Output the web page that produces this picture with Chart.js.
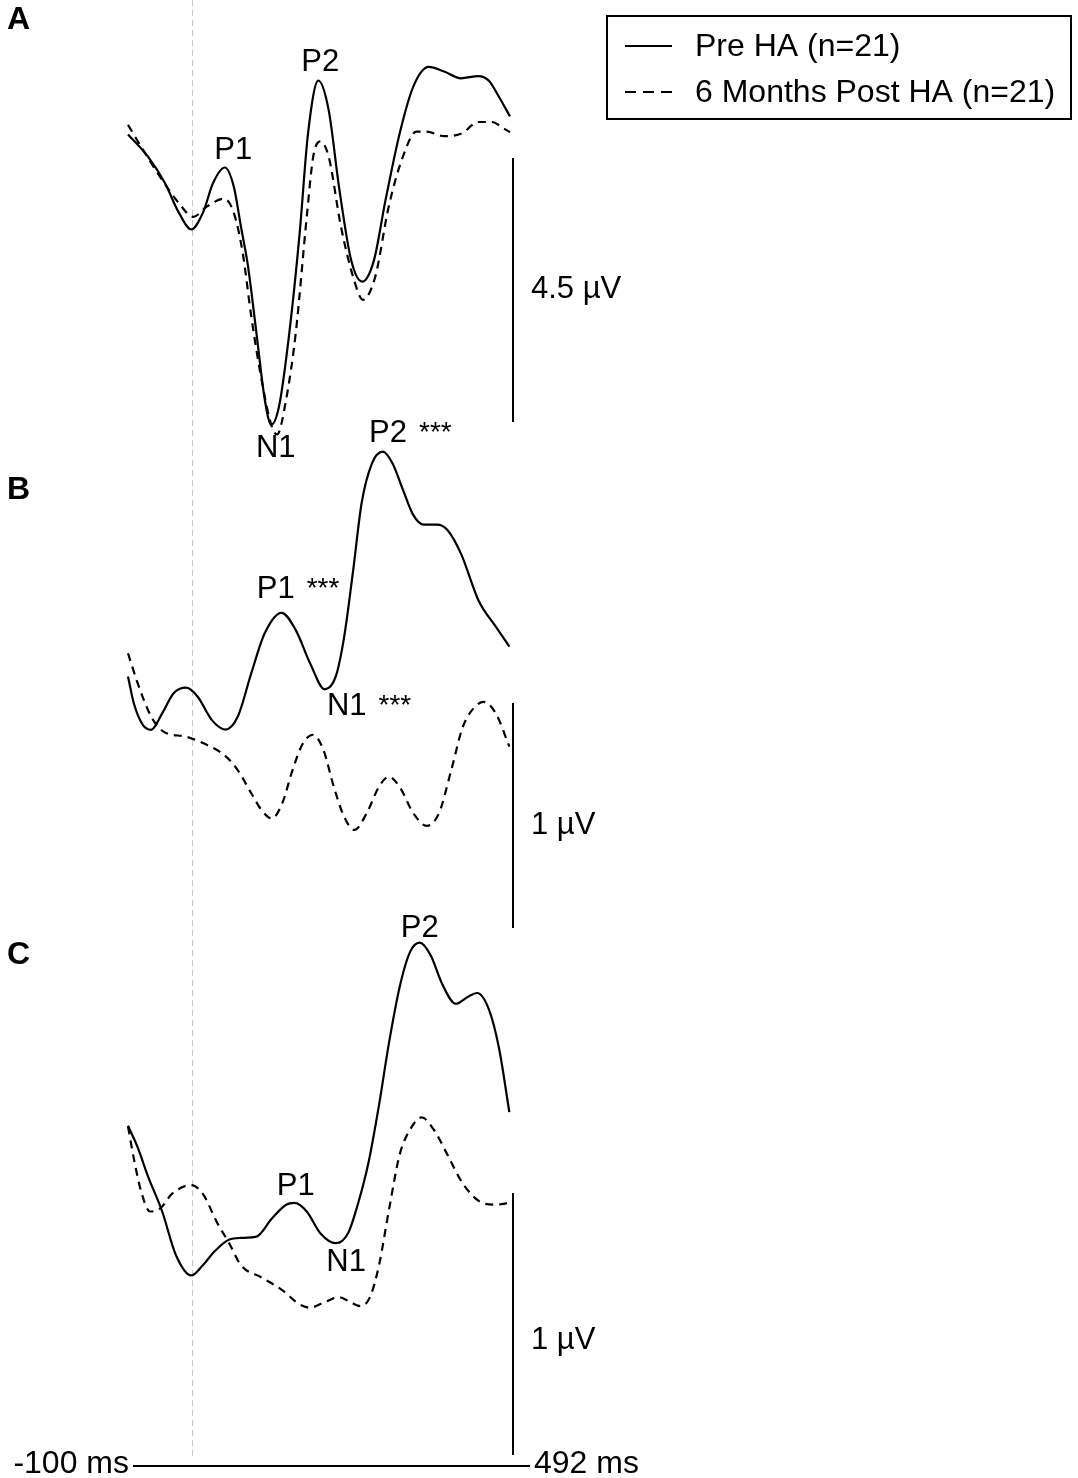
<!DOCTYPE html>
<html>
<head>
<meta charset="utf-8">
<title>ERP waveforms pre / post HA</title>
<script src="https://cdn.jsdelivr.net/npm/chart.js@4.4.1/dist/chart.umd.min.js"></script>
<style>
  html, body { margin: 0; padding: 0; background: #fff; }
  #wrap { width: 1078px; height: 1478px; }
</style>
</head>
<body>
<div id="wrap"><canvas id="erp" width="1078" height="1478"></canvas></div>
<script>
// ---- data: time in ms, amplitude in µV ----
const seriesLabels = ['Pre HA (n=21)', '6 Months Post HA (n=21)'];
const panelNames = ['A', 'B', 'C'];
const timeRange = [-100, 492];

const aPreMs = [-100, -69, -43, -21, -2, 16, 32, 50, 64, 75, 86, 99, 112, 122, 134, 150, 166, 179, 195, 211, 227, 246, 263, 281, 299, 321, 342, 366, 390, 416, 443, 459, 475, 492];
const aPreUv = [1.007, 0.629, 0.184, -0.329, -0.610, -0.329, 0.184, 0.445, 0.116, -0.561, -1.239, -2.372, -3.514, -3.940, -3.630, -2.372, -0.678, 1.026, 1.926, 1.423, 0.116, -1.142, -1.500, -1.142, -0.116, 1.026, 1.820, 2.159, 2.081, 1.965, 2.004, 1.926, 1.646, 1.316];
const aPostMs = [-100, -74, -47, -21, 1, 22, 49, 64, 78, 91, 108, 123, 131, 145, 160, 177, 187, 198, 211, 230, 249, 264, 283, 304, 326, 347, 363, 390, 417, 443, 464, 482, 492];
const aPostUv = [1.171, 0.697, 0.232, -0.165, -0.397, -0.223, -0.087, -0.329, -1.026, -2.091, -3.233, -3.978, -4.104, -3.514, -2.372, -0.397, 0.629, 0.891, 0.629, -0.561, -1.423, -1.810, -1.423, -0.223, 0.629, 1.055, 1.055, 0.978, 1.026, 1.220, 1.220, 1.113, 1.045];

const bPreMs = [-100, -91, -77, -64, -47, -29, -10, 8, 30, 51, 70, 91, 112, 138, 160, 182, 205, 222, 235, 249, 262, 278, 295, 310, 326, 342, 358, 379, 395, 416, 443, 470, 491];
const bPreUv = [0.194, 0.075, -0.021, -0.043, 0.030, 0.120, 0.144, 0.104, 0, -0.042, 0.015, 0.208, 0.387, 0.477, 0.400, 0.254, 0.137, 0.194, 0.370, 0.667, 0.964, 1.140, 1.193, 1.140, 1.024, 0.912, 0.869, 0.869, 0.845, 0.740, 0.533, 0.415, 0.327];
const bPostMs = [-100, -85, -64, -45, -10, 22, 49, 70, 91, 107, 123, 139, 155, 171, 187, 203, 219, 235, 251, 270, 289, 304, 321, 342, 363, 382, 401, 419, 438, 451, 470, 491];
const bPostUv = [0.297, 0.164, 0.015, -0.051, -0.074, -0.110, -0.155, -0.222, -0.325, -0.400, -0.437, -0.370, -0.222, -0.104, -0.065, -0.134, -0.297, -0.430, -0.488, -0.413, -0.296, -0.252, -0.297, -0.413, -0.470, -0.413, -0.222, -0.029, 0.060, 0.081, 0.030, -0.118];

const cPreMs = [-100, -85, -69, -47, -26, -2, 16, 35, 57, 75, 99, 123, 145, 158, 177, 198, 222, 241, 256, 273, 289, 304, 321, 337, 352, 369, 387, 408, 427, 441, 459, 475, 491];
const cPreUv = [0.319, 0.237, 0.126, -0.008, -0.173, -0.252, -0.213, -0.158, -0.115, -0.109, -0.104, -0.035, 0.018, 0.025, -0.008, -0.091, -0.129, -0.091, 0.018, 0.182, 0.398, 0.629, 0.849, 0.982, 1.018, 0.970, 0.860, 0.785, 0.812, 0.826, 0.765, 0.615, 0.371];
const cPostMs = [-100, -90, -80, -66, -50, -32, -2, 16, 38, 57, 75, 107, 139, 166, 182, 203, 227, 246, 260, 275, 289, 304, 321, 337, 355, 374, 395, 419, 449, 470, 491];
const cPostUv = [0.316, 0.182, 0.072, -0.008, 0.004, 0.059, 0.093, 0.059, -0.050, -0.130, -0.213, -0.260, -0.308, -0.363, -0.375, -0.356, -0.335, -0.356, -0.369, -0.335, -0.213, -0.008, 0.209, 0.304, 0.351, 0.304, 0.209, 0.098, 0.025, 0.018, 0.025];

// amplitude scale bars (µV)
const barFrom = [-3.893, -0.924, -0.937];
const barSize = [4.5, 1, 1];
const barText = ['4.5 µV', '1 µV', '1 µV'];

// component labels: panel, text, time (ms), amplitude (µV), significance
const peakText = ['P1', 'P2', 'N1', 'P1', 'P2', 'N1', 'P1', 'P2', 'N1'];
const peakPanel = ['A', 'A', 'A', 'B', 'B', 'B', 'C', 'C', 'C'];
const peakMs = [63, 198, 129, 129, 303, 239, 160, 352, 238];
const peakUv = [0.743, 2.243, -4.336, 0.582, 1.276, 0.060, 0.086, 1.074, -0.201];
const peakSig = ['', '', '', '***', '***', '***', '', '', ''];

// ---- layout ----
const W = 1078, H = 1478;
const FONT = '"Liberation Sans", Arial, Helvetica, sans-serif';
const panelLayout = {
  A: { zeroPx: 193.6, pxPerUv: 58.67, letterY: 20, barLabelDy: -1 },
  B: { zeroPx: 720.1, pxPerUv: 225, letterY: 490, barLabelDy: 10 },
  C: { zeroPx: 1209.4, pxPerUv: 262, letterY: 955, barLabelDy: 17 }
};

function yAxis(name) {
  const p = panelLayout[name];
  return { display: false, min: -(H - p.zeroPx) / p.pxPerUv, max: p.zeroPx / p.pxPerUv };
}

function pts(ms, uv) {
  return ms.map((t, i) => ({ x: t, y: uv[i] }));
}

function wave(label, ms, uv, axis, dashed) {
  return {
    label: label,
    data: pts(ms, uv),
    yAxisID: axis,
    borderColor: '#000',
    borderWidth: 2.2,
    borderDash: dashed ? [8, 6] : [],
    pointRadius: 0,
    fill: false,
    cubicInterpolationMode: 'monotone',
    clip: false
  };
}

const erpDecor = {
  id: 'erpDecor',
  beforeDatasetsDraw(chart) {
    const { ctx, scales } = chart;
    const x0 = scales.x.getPixelForValue(0);
    const bottom = scales.yC.getPixelForValue(barFrom[2]) + 3;
    ctx.save();
    ctx.strokeStyle = '#c8c8c8';
    ctx.lineWidth = 1;
    ctx.setLineDash([6, 4]);
    ctx.beginPath();
    ctx.moveTo(x0, 0);
    ctx.lineTo(x0, bottom);
    ctx.stroke();
    ctx.restore();
  },
  afterDatasetsDraw(chart) {
    const { ctx, scales } = chart;
    const xs = scales.x;
    ctx.save();
    ctx.fillStyle = '#000';
    ctx.strokeStyle = '#000';

    // panel letters
    ctx.font = 'bold 32px ' + FONT;
    ctx.textBaseline = 'middle';
    ctx.textAlign = 'left';
    panelNames.forEach(n => ctx.fillText(n, 7, panelLayout[n].letterY));

    // scale bars
    const barX = xs.getPixelForValue(timeRange[1]) + 3;
    ctx.lineWidth = 2;
    panelNames.forEach((n, i) => {
      const ys = scales['y' + n];
      const y1 = ys.getPixelForValue(barFrom[i]);
      const y2 = ys.getPixelForValue(barFrom[i] + barSize[i]);
      ctx.beginPath();
      ctx.moveTo(barX, y1);
      ctx.lineTo(barX, y2);
      ctx.stroke();
      ctx.font = '31px ' + FONT;
      ctx.textAlign = 'left';
      ctx.fillText(barText[i], barX + 18, (y1 + y2) / 2 + panelLayout[n].barLabelDy);
    });

    // component labels
    peakText.forEach((txt, i) => {
      const ys = scales['y' + peakPanel[i]];
      const px = xs.getPixelForValue(peakMs[i]);
      const py = ys.getPixelForValue(peakUv[i]);
      ctx.font = '31px ' + FONT;
      ctx.textAlign = 'center';
      ctx.fillText(txt, px, py);
      if (peakSig[i]) {
        const w = ctx.measureText(txt).width;
        ctx.font = '28px ' + FONT;
        ctx.textAlign = 'left';
        ctx.fillText(peakSig[i], px + w / 2 + 12, py);
      }
    });

    // time axis
    const axisY = scales.yC.getPixelForValue(barFrom[2]) + 11;
    const xl = xs.getPixelForValue(timeRange[0]) + 5;
    const xr = xs.getPixelForValue(timeRange[1]) + 20;
    ctx.lineWidth = 2;
    ctx.beginPath();
    ctx.moveTo(xl, axisY);
    ctx.lineTo(xr, axisY);
    ctx.stroke();
    ctx.font = '32px ' + FONT;
    ctx.textAlign = 'right';
    ctx.fillText('-' + Math.abs(timeRange[0]) + ' ms', xl - 4, axisY - 2);
    ctx.textAlign = 'left';
    ctx.fillText(timeRange[1] + ' ms', xr + 4, axisY - 2);

    // legend
    ctx.lineWidth = 2;
    ctx.strokeRect(607, 16, 464, 103);
    [46, 92].forEach((ly, i) => {
      ctx.beginPath();
      ctx.setLineDash(i === 0 ? [] : [11, 7]);
      ctx.moveTo(625, ly);
      ctx.lineTo(672, ly);
      ctx.stroke();
      ctx.setLineDash([]);
      ctx.font = '32px ' + FONT;
      ctx.textAlign = 'left';
      ctx.fillText(seriesLabels[i], 695, ly + 1);
    });
    ctx.restore();
  }
};

new Chart(document.getElementById('erp').getContext('2d'), {
  type: 'line',
  data: {
    datasets: [
      wave(seriesLabels[0], aPreMs, aPreUv, 'yA', false),
      wave(seriesLabels[1], aPostMs, aPostUv, 'yA', true),
      wave(seriesLabels[0], bPreMs, bPreUv, 'yB', false),
      wave(seriesLabels[1], bPostMs, bPostUv, 'yB', true),
      wave(seriesLabels[0], cPreMs, cPreUv, 'yC', false),
      wave(seriesLabels[1], cPostMs, cPostUv, 'yC', true)
    ]
  },
  options: {
    responsive: false,
    animation: false,
    layout: { padding: { left: 128, right: W - 510, top: 0, bottom: 0 } },
    plugins: { legend: { display: false }, tooltip: { enabled: false } },
    scales: {
      x: { type: 'linear', display: false, min: timeRange[0], max: timeRange[1] },
      yA: yAxis('A'),
      yB: yAxis('B'),
      yC: yAxis('C')
    }
  },
  plugins: [erpDecor]
});
</script>
</body>
</html>
